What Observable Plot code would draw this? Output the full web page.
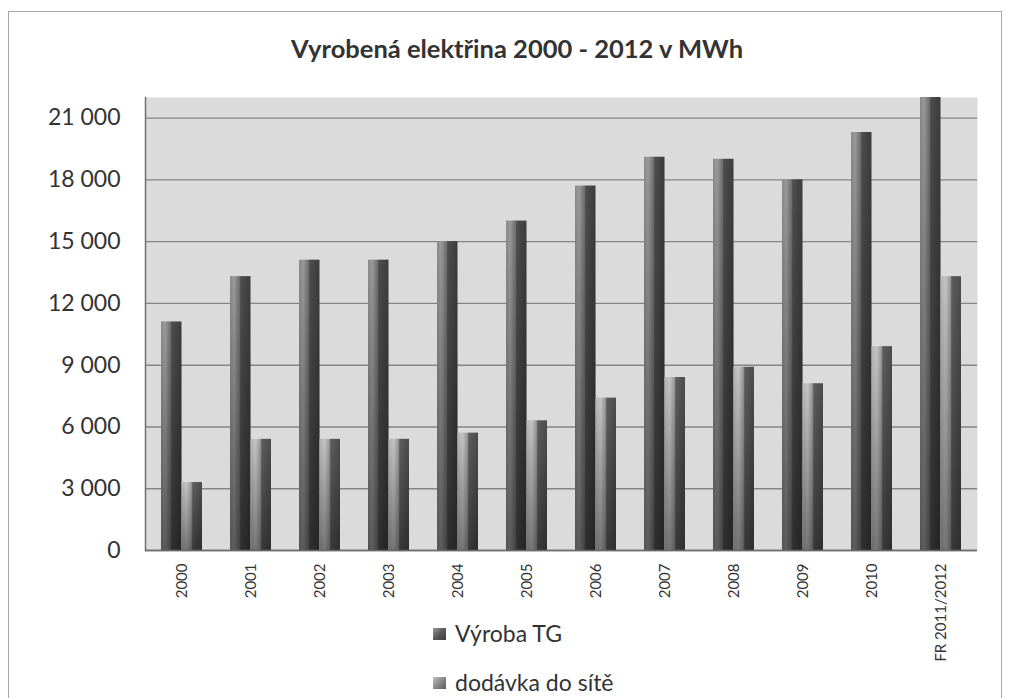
<!DOCTYPE html>
<html>
<head>
<meta charset="utf-8">
<script src="https://cdn.jsdelivr.net/npm/d3@7"></script>
<script src="https://cdn.jsdelivr.net/npm/@observablehq/plot@0.6"></script>
<style>
  html, body { margin: 0; padding: 0; background: #ffffff; }
  #wrap { position: relative; width: 1011px; height: 698px; overflow: hidden; font-family: Lato, "Open Sans", sans-serif; color: #333; }
  #border { position: absolute; left: 8px; top: 11px; width: 994px; height: 720px; border: 1px solid #a8a8a8; box-sizing: border-box; }
  #chart { position: absolute; left: 0; top: 0; }
  #title { position: absolute; left: 0; top: 36px; width: 1034px; text-align: center; font-weight: bold; font-size: 25.5px; line-height: 25px; color: #333; }
  .leg { position: absolute; left: 433px; font-size: 23px; line-height: 23px; color: #333; display: flex; align-items: center; white-space: nowrap; }
  .sw { width: 13px; height: 12px; margin-right: 9px; }
</style>
</head>
<body>
<div id="wrap">
  <div id="border"></div>
  <div id="chart"></div>
  <div id="title">Vyrobená elektřina 2000 - 2012 v MWh</div>
  <div id="legend"></div>
</div>
<script>
// ---- data ----
const categories = ["2000", "2001", "2002", "2003", "2004", "2005", "2006", "2007", "2008", "2009", "2010", "FR 2011/2012"];
const seriesNames = ["Výroba TG", "dodávka do sítě"];
const vyrobaTG = [11100, 13300, 14100, 14100, 15000, 16000, 17700, 19100, 19000, 18000, 20300, 22600];
const dodavka = [3300, 5400, 5400, 5400, 5700, 6300, 7400, 8400, 8900, 8100, 9900, 13300];
const yTicks = [0, 3000, 6000, 9000, 12000, 15000, 18000, 21000];

const data = categories.map((c, i) => ({category: c, vyroba: vyrobaTG[i], dodavka: dodavka[i]}));

const fmt = d3.formatLocale({decimal: ",", thousands: "\u00a0", grouping: [3], currency: ["", ""]}).format(",d");

function defs() {
  const d = d3.create("svg:defs");
  const h = (id, stops) => {
    const g = d.append("linearGradient").attr("id", id).attr("x1", 0).attr("x2", 1).attr("y1", 0).attr("y2", 0);
    stops.forEach(([o, c]) => g.append("stop").attr("offset", o).attr("stop-color", c));
  };
  h("gTG", [[0, "#8a8a8a"], [0.2, "#9a9a9a"], [0.48, "#6c6c6c"], [0.52, "#4e4e4e"], [1, "#3c3c3c"]]);
  h("gDod", [[0, "#b4b4b4"], [0.25, "#c4c4c4"], [0.48, "#9a9a9a"], [0.55, "#5e5e5e"], [1, "#4c4c4c"]]);
  const v = d.append("linearGradient").attr("id", "gShade").attr("x1", 0).attr("x2", 0).attr("y1", 0).attr("y2", 1);
  v.append("stop").attr("offset", 0).attr("stop-color", "#000").attr("stop-opacity", 0);
  v.append("stop").attr("offset", 1).attr("stop-color", "#000").attr("stop-opacity", 0.4);
  return d.node();
}

const half = 20.5;
const chart = Plot.plot({
  width: 1011,
  height: 698,
  marginLeft: 145,
  marginRight: 34,
  marginTop: 97,
  marginBottom: 148,
  style: {fontFamily: "Lato, 'Open Sans', sans-serif", color: "#333", background: "transparent"},
  x: {domain: categories, paddingInner: 0.41, paddingOuter: 0.205, label: null},
  y: {domain: [0, 22000], label: null},
  marks: [
    defs,
    Plot.frame({fill: "#dbdbdb", stroke: null}),
    Plot.gridY(yTicks, {stroke: "#858585", strokeOpacity: 1, strokeWidth: 1.4}),
    Plot.barY(data, {x: "category", y: "vyroba", fill: "url(#gTG)", insetRight: half, clip: true}),
    Plot.barY(data, {x: "category", y: "vyroba", fill: "url(#gShade)", insetRight: half, clip: true}),
    Plot.barY(data, {x: "category", y: "dodavka", fill: "url(#gDod)", insetLeft: half}),
    Plot.barY(data, {x: "category", y: "dodavka", fill: "url(#gShade)", insetLeft: half}),
    Plot.ruleY([0], {stroke: "#6a6a6a", strokeWidth: 1.5}),
    Plot.frame({anchor: "left", stroke: "#707070", strokeWidth: 1.5}),
    Plot.axisY(yTicks, {tickSize: 0, tickPadding: 25, tickFormat: fmt, fontSize: 23, fill: "#333"}),
    Plot.axisX({tickRotate: -90, tickSize: 0, tickPadding: 13, fontSize: 15, fill: "#333", label: null})
  ]
});
document.getElementById("chart").appendChild(chart);

// legend
const legend = document.getElementById("legend");
const swatches = [
  "linear-gradient(135deg, #9a9a9a 0%, #5a5a5a 50%, #3c3c3c 100%)",
  "linear-gradient(135deg, #c4c4c4 0%, #8a8a8a 50%, #5c5c5c 100%)"
];
const legTops = [622, 671];
seriesNames.forEach((name, i) => {
  const row = document.createElement("div");
  row.className = "leg";
  row.style.top = legTops[i] + "px";
  const sw = document.createElement("div");
  sw.className = "sw";
  sw.style.background = swatches[i];
  const t = document.createElement("span");
  t.textContent = name;
  row.appendChild(sw);
  row.appendChild(t);
  legend.appendChild(row);
});
</script>
</body>
</html>
